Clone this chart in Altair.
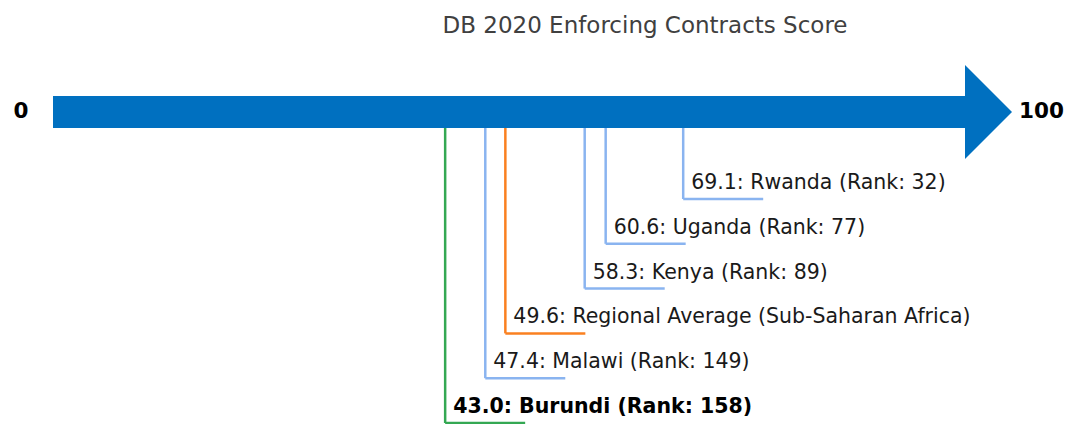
import altair as alt
import pandas as pd

# ---- data ----
names = ["Rwanda", "Uganda", "Kenya", "Regional Average (Sub-Saharan Africa)", "Malawi", "Burundi"]
scores = [69.1, 60.6, 58.3, 49.6, 47.4, 43.0]
ranks = [32, 77, 89, None, 149, 158]
kinds = ["peer", "peer", "peer", "regional", "peer", "focus"]
title_text = "DB 2020 Enforcing Contracts Score"
axis_min, axis_max = 0, 100

# ---- layout helpers (pixels in plot coordinates) ----
W, H = 1056, 416
px_per_unit = 9.12
x_lo = -45 / px_per_unit
x_hi = x_lo + W / px_per_unit
xscale = alt.Scale(domain=[x_lo, x_hi], nice=False, zero=False)
yscale = alt.Scale(domain=[0, H], reverse=True, nice=False, zero=False)

shaft_top, shaft_bot = 88, 120
shaft_mid = (shaft_top + shaft_bot) / 2
head_half = 47
head_len = 47 / px_per_unit
seg_len = 80 / px_per_unit
bottom_level, step = 415, 44.8

rows = []
order = sorted(range(len(scores)), key=lambda i: scores[i])
for pos, i in enumerate(order):
    if ranks[i] is None:
        label = f"{scores[i]:.1f}: {names[i]}"
    else:
        label = f"{scores[i]:.1f}: {names[i]} (Rank: {ranks[i]})"
    rows.append({
        "name": names[i], "score": scores[i], "kind": kinds[i], "label": label,
        "level": bottom_level - pos * step, "top": shaft_bot,
        "score_end": scores[i] + seg_len,
    })
df = pd.DataFrame(rows)

color = alt.Color("kind:N", legend=None, scale=alt.Scale(
    domain=["peer", "regional", "focus"], range=["#8AB4F0", "#FA8020", "#34A853"]))

shaft = alt.Chart(pd.DataFrame({"x": [axis_min], "x2": [axis_max], "y": [shaft_top], "y2": [shaft_bot]})).mark_rect(
    color="#0070C0").encode(
    x=alt.X("x:Q", scale=xscale, axis=None), x2="x2:Q",
    y=alt.Y("y:Q", scale=yscale, axis=None), y2="y2:Q")

head = alt.Chart(pd.DataFrame({
    "x": [axis_max, axis_max + head_len],
    "y": [shaft_mid - head_half, shaft_mid],
    "y2": [shaft_mid + head_half, shaft_mid]})).mark_area(color="#0070C0", orient="vertical").encode(
    x=alt.X("x:Q", scale=xscale, axis=None),
    y=alt.Y("y:Q", scale=yscale, axis=None), y2="y2:Q")

ends = alt.Chart(pd.DataFrame({"v": [axis_min, axis_max], "t": [str(axis_min), str(axis_max)],
                               "y": [shaft_mid, shaft_mid]}))
end0 = ends.transform_filter("datum.v == 0").mark_text(
    font="DejaVu Sans", fontSize=21.5, fontWeight="bold", color="#000000", align="center",
    baseline="middle", dx=-32).encode(
    x=alt.X("v:Q", scale=xscale, axis=None), y=alt.Y("y:Q", scale=yscale, axis=None), text="t:N")
end100 = ends.transform_filter("datum.v == 100").mark_text(
    font="DejaVu Sans", fontSize=21.5, fontWeight="bold", color="#000000", align="left",
    baseline="middle", dx=54).encode(
    x=alt.X("v:Q", scale=xscale, axis=None), y=alt.Y("y:Q", scale=yscale, axis=None), text="t:N")

base = alt.Chart(df)
vlines = base.mark_rule(strokeWidth=2.5).encode(
    x=alt.X("score:Q", scale=xscale, axis=None),
    y=alt.Y("top:Q", scale=yscale, axis=None), y2="level:Q", color=color)
hlines = base.mark_rule(strokeWidth=2.5).encode(
    x=alt.X("score:Q", scale=xscale, axis=None), x2="score_end:Q",
    y=alt.Y("level:Q", scale=yscale, axis=None), color=color)

labels_norm = base.transform_filter("datum.kind != 'focus'").mark_text(
    font="DejaVu Sans", fontSize=20.5, color="#1a1a1a", align="left", baseline="alphabetic", dx=8, dy=-10).encode(
    x=alt.X("score:Q", scale=xscale, axis=None), y=alt.Y("level:Q", scale=yscale, axis=None), text="label:N")
labels_bold = base.transform_filter("datum.kind == 'focus'").mark_text(
    font="DejaVu Sans", fontSize=20.5, fontWeight="bold", color="#000000", align="left", baseline="alphabetic",
    dx=8, dy=-10).encode(
    x=alt.X("score:Q", scale=xscale, axis=None), y=alt.Y("level:Q", scale=yscale, axis=None), text="label:N")

title = alt.Chart(pd.DataFrame({"t": [title_text]})).mark_text(
    font="DejaVu Sans", fontSize=23, color="#404040", align="center", baseline="middle").encode(
    x=alt.value(637), y=alt.value(18), text="t:N")

chart = alt.layer(shaft, head, vlines, hlines, labels_norm, labels_bold, end0, end100, title).properties(
    width=W, height=H, autosize=alt.AutoSizeParams(type="none"), padding=0
).configure_view(stroke=None)

chart.save("out.html", embed_options={"renderer": "svg", "actions": False})
